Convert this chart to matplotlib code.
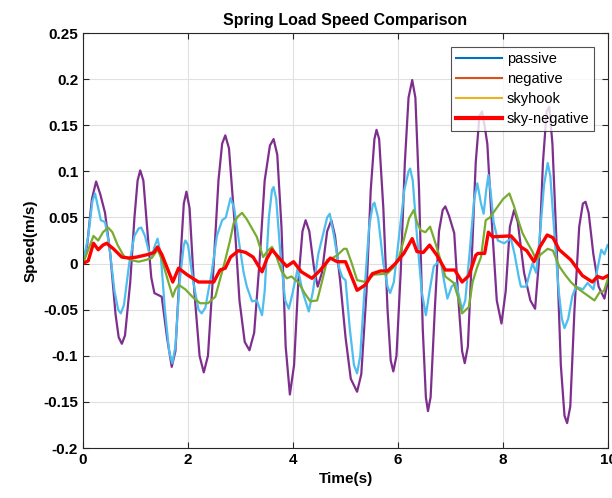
import matplotlib
matplotlib.use("Agg")
import matplotlib.pyplot as plt
from matplotlib.lines import Line2D
from matplotlib.ticker import FuncFormatter

# purple trace
purple_t = [0.00, 0.08, 0.17, 0.25, 0.33, 0.42, 0.52, 0.62, 0.68, 0.74, 0.80, 0.90, 0.98, 1.04, 1.09,
            1.15, 1.22, 1.30, 1.36, 1.50, 1.60, 1.69, 1.76, 1.84, 1.92, 1.97, 2.03, 2.12, 2.22, 2.30,
            2.38, 2.48, 2.58, 2.65, 2.71, 2.78, 2.88, 2.98, 3.08, 3.17, 3.26, 3.36, 3.46, 3.56, 3.63,
            3.70, 3.78, 3.86, 3.94, 4.02, 4.10, 4.18, 4.24, 4.31, 4.40, 4.47, 4.55, 4.65, 4.73, 4.80,
            4.90, 5.00, 5.10, 5.22, 5.30, 5.40, 5.48, 5.55, 5.59, 5.64, 5.72, 5.80, 5.86, 5.91, 5.97,
            6.05, 6.13, 6.20, 6.27, 6.33, 6.40, 6.47, 6.53, 6.57, 6.62, 6.70, 6.78, 6.85, 6.90, 6.97,
            7.07, 7.15, 7.22, 7.27, 7.33, 7.40, 7.48, 7.55, 7.60, 7.66, 7.70, 7.78, 7.88, 7.97, 8.05,
            8.13, 8.21, 8.28, 8.40, 8.52, 8.61, 8.68, 8.76, 8.83, 8.88, 8.94, 9.02, 9.10, 9.17, 9.22,
            9.28, 9.36, 9.45, 9.52, 9.57, 9.63, 9.72, 9.82, 9.93, 10.00]
purple_v = [0.000, 0.020, 0.070, 0.089, 0.075, 0.055, 0.010, -0.055, -0.080, -0.087, -0.078, -0.020, 0.050, 0.090, 0.101,
            0.090, 0.040, -0.015, -0.032, -0.036, -0.080, -0.112, -0.095, -0.010, 0.065, 0.078, 0.060, -0.030, -0.100, -0.118,
            -0.100, -0.010, 0.090, 0.130, 0.139, 0.125, 0.050, -0.040, -0.085, -0.094, -0.075, 0.000, 0.090, 0.128, 0.135,
            0.118, 0.040, -0.090, -0.142, -0.110, -0.020, 0.035, 0.047, 0.035, -0.005, -0.025, -0.010, 0.035, 0.047, 0.030,
            -0.020, -0.080, -0.125, -0.139, -0.120, -0.030, 0.080, 0.135, 0.145, 0.135, 0.060, -0.050, -0.105, -0.117, -0.100,
            -0.010, 0.110, 0.180, 0.199, 0.180, 0.080, -0.070, -0.145, -0.160, -0.145, -0.050, 0.035, 0.058, 0.062, 0.052,
            0.033, -0.040, -0.095, -0.108, -0.090, 0.000, 0.110, 0.160, 0.165, 0.145, 0.130, 0.050, -0.040, -0.065, -0.030,
            0.040, 0.058, 0.045, -0.010, -0.040, -0.049, 0.000, 0.110, 0.165, 0.170, 0.130, 0.020, -0.110, -0.165, -0.173,
            -0.155, -0.050, 0.040, 0.065, 0.067, 0.055, 0.010, -0.025, -0.038, -0.018]

# light blue trace
blue_t = [0.00, 0.10, 0.18, 0.23, 0.29, 0.34, 0.42, 0.50, 0.60, 0.67, 0.72, 0.78, 0.88, 0.98, 1.06,
          1.11, 1.18, 1.26, 1.31, 1.36, 1.42, 1.48, 1.56, 1.64, 1.70, 1.76, 1.84, 1.92, 1.95, 2.00,
          2.10, 2.20, 2.26, 2.33, 2.45, 2.55, 2.65, 2.72, 2.81, 2.88, 2.98, 3.06, 3.12, 3.22, 3.31,
          3.41, 3.46, 3.54, 3.60, 3.63, 3.68, 3.76, 3.85, 3.92, 3.98, 4.09, 4.18, 4.30, 4.38, 4.48,
          4.59, 4.65, 4.70, 4.78, 4.88, 4.94, 5.00, 5.08, 5.16, 5.22, 5.28, 5.36, 5.45, 5.52, 5.55,
          5.62, 5.72, 5.80, 5.85, 5.92, 6.02, 6.12, 6.20, 6.23, 6.28, 6.36, 6.45, 6.53, 6.60, 6.68,
          6.81, 6.88, 6.94, 7.02, 7.10, 7.16, 7.22, 7.28, 7.36, 7.45, 7.51, 7.58, 7.63, 7.68, 7.72,
          7.76, 7.82, 7.90, 8.02, 8.15, 8.22, 8.30, 8.34, 8.44, 8.50, 8.56, 8.63, 8.70, 8.78, 8.85,
          8.90, 8.98, 9.06, 9.12, 9.17, 9.24, 9.32, 9.39, 9.52, 9.61, 9.72, 9.80, 9.87, 9.93, 9.99]
blue_v = [0.000, 0.030, 0.068, 0.076, 0.060, 0.047, 0.045, 0.020, -0.030, -0.050, -0.054, -0.045, 0.000, 0.030, 0.038,
          0.039, 0.030, 0.012, 0.007, 0.018, 0.027, 0.010, -0.050, -0.095, -0.108, -0.090, -0.020, 0.020, 0.025, 0.020,
          -0.020, -0.050, -0.054, -0.048, -0.010, 0.030, 0.047, 0.050, 0.071, 0.060, 0.020, -0.010, -0.025, -0.041, -0.040,
          -0.056, -0.030, 0.050, 0.080, 0.083, 0.070, 0.010, -0.040, -0.049, -0.035, -0.005, -0.030, -0.052, -0.030, 0.010,
          0.036, 0.050, 0.054, 0.030, -0.005, -0.015, -0.018, -0.070, -0.110, -0.119, -0.100, -0.030, 0.040, 0.064, 0.066,
          0.050, 0.000, -0.025, -0.032, -0.020, 0.030, 0.080, 0.100, 0.103, 0.090, 0.030, -0.030, -0.056, -0.030, -0.003,
          0.004, -0.020, -0.038, -0.025, -0.021, -0.035, -0.050, -0.040, 0.010, 0.070, 0.087, 0.065, 0.054, 0.080, 0.096,
          0.080, 0.045, 0.025, 0.022, 0.027, 0.010, -0.015, -0.025, -0.025, -0.012, 0.000, -0.010, 0.030, 0.085, 0.109,
          0.095, 0.030, -0.030, -0.060, -0.070, -0.060, -0.035, -0.025, -0.028, -0.021, -0.028, -0.005, 0.015, 0.010, 0.020]

# green trace
green_t = [0.00, 0.10, 0.20, 0.29, 0.38, 0.48, 0.56, 0.66, 0.78, 0.90, 1.06, 1.20, 1.31, 1.42, 1.50,
           1.60, 1.71, 1.76, 1.82, 1.95, 2.10, 2.23, 2.38, 2.52, 2.62, 2.71, 2.80, 2.87, 2.95, 3.03,
           3.12, 3.24, 3.31, 3.37, 3.43, 3.52, 3.60, 3.68, 3.78, 3.88, 3.97, 4.11, 4.22, 4.33, 4.46,
           4.55, 4.65, 4.75, 4.84, 4.97, 5.02, 5.12, 5.22, 5.38, 5.54, 5.79, 5.90, 6.02, 6.12, 6.21,
           6.30, 6.36, 6.43, 6.52, 6.61, 6.68, 6.75, 6.83, 6.90, 7.06, 7.15, 7.22, 7.35, 7.42, 7.50,
           7.58, 7.67, 7.75, 7.90, 8.00, 8.12, 8.21, 8.30, 8.37, 8.47, 8.56, 8.63, 8.72, 8.85, 8.95,
           9.07, 9.18, 9.29, 9.40, 9.52, 9.62, 9.74, 9.84, 9.92, 10.00]
green_v = [0.000, 0.015, 0.030, 0.025, 0.034, 0.039, 0.034, 0.020, 0.008, 0.004, 0.002, 0.004, 0.006, 0.015, 0.005,
           -0.015, -0.036, -0.028, -0.023, -0.028, -0.037, -0.043, -0.043, -0.036, -0.015, 0.004, 0.025, 0.044, 0.051, 0.055,
           0.048, 0.036, 0.029, 0.018, 0.007, 0.014, 0.018, 0.008, -0.008, -0.016, -0.014, -0.021, -0.032, -0.041, -0.040,
           -0.020, 0.004, 0.006, 0.009, 0.016, 0.016, 0.000, -0.018, -0.020, -0.012, -0.011, -0.005, 0.007, 0.028, 0.049,
           0.058, 0.045, 0.036, 0.034, 0.040, 0.028, 0.015, 0.000, -0.014, -0.021, -0.038, -0.054, -0.047, -0.020, -0.005,
           0.007, 0.047, 0.050, 0.062, 0.070, 0.076, 0.062, 0.045, 0.033, 0.022, 0.013, 0.004, 0.010, 0.016, 0.014,
           -0.003, -0.012, -0.020, -0.026, -0.031, -0.035, -0.040, -0.031, -0.030, -0.016]

# red (sky-negative) trace
red_t = [0.00, 0.10, 0.20, 0.29, 0.38, 0.45, 0.58, 0.74, 0.88, 1.02, 1.25, 1.35, 1.42, 1.50, 1.57,
         1.71, 1.82, 1.98, 2.20, 2.49, 2.61, 2.71, 2.81, 2.96, 3.10, 3.24, 3.41, 3.50, 3.60, 3.75,
         3.88, 4.01, 4.16, 4.36, 4.52, 4.71, 4.84, 5.00, 5.10, 5.22, 5.38, 5.51, 5.67, 5.80, 5.95,
         6.11, 6.27, 6.36, 6.48, 6.60, 6.74, 6.90, 7.08, 7.22, 7.35, 7.48, 7.52, 7.65, 7.72, 7.80,
         8.15, 8.34, 8.45, 8.59, 8.70, 8.84, 8.95, 9.07, 9.29, 9.51, 9.70, 9.80, 9.90, 10.00]
red_v = [0.000, 0.003, 0.022, 0.015, 0.020, 0.022, 0.016, 0.007, 0.006, 0.007, 0.010, 0.012, 0.018, 0.010, 0.000,
         -0.020, -0.005, -0.012, -0.020, -0.020, -0.007, -0.005, 0.007, 0.014, 0.012, 0.007, -0.009, 0.005, 0.015, 0.005,
         -0.003, 0.002, -0.009, -0.016, -0.007, 0.006, 0.002, 0.002, -0.012, -0.029, -0.023, -0.011, -0.008, -0.008, 0.000,
         0.011, 0.027, 0.013, 0.012, 0.020, 0.009, -0.007, -0.007, -0.020, -0.013, 0.009, 0.011, 0.011, 0.034, 0.029,
         0.030, 0.018, 0.014, 0.002, 0.018, 0.031, 0.028, 0.015, 0.004, -0.013, -0.020, -0.014, -0.016, -0.013]

legend_labels = ["passive", "negative", "skyhook", "sky-negative"]
legend_colors = ["#0072BD", "#D95319", "#EDB120", "#FF0000"]
legend_widths = [1.5, 1.5, 1.5, 3.0]

plt.rcParams["font.family"] = ["Liberation Sans", "DejaVu Sans"]

fig = plt.figure(figsize=(6.12, 4.98), dpi=100)
ax = fig.add_axes([0.1356, 0.1004, 0.858, 0.8333])

ax.plot(purple_t, purple_v, color="#7E2F8E", lw=1.6)
ax.plot(blue_t, blue_v, color="#4DBEEE", lw=1.6)
ax.plot(green_t, green_v, color="#77AC30", lw=1.6)
ax.plot(red_t, red_v, color="#FF0000", lw=2.4)

ax.set_xlim(0, 10)
ax.set_ylim(-0.2, 0.25)
ax.set_xticks([0, 2, 4, 6, 8, 10])
ax.set_yticks([-0.2, -0.15, -0.1, -0.05, 0, 0.05, 0.1, 0.15, 0.2, 0.25])
ax.yaxis.set_major_formatter(FuncFormatter(lambda v, p: "%g" % round(v, 3)))
ax.grid(True, color="#e0e0e0", lw=0.8)
ax.set_axisbelow(True)
ax.tick_params(direction="in", top=True, right=True, length=4, width=0.8,
               labelsize=11, colors="#262626")
for lab in ax.get_xticklabels() + ax.get_yticklabels():
    lab.set_fontweight("bold")
    lab.set_color("black")
for s in ax.spines.values():
    s.set_color("#262626")
    s.set_linewidth(0.8)

ax.set_title("Spring Load Speed Comparison", fontsize=11.5, fontweight="bold", pad=6)
ax.set_xlabel("Time(s)", fontsize=11, fontweight="bold", labelpad=4)
ax.set_ylabel("Speed(m/s)", fontsize=11, fontweight="bold", labelpad=4)

handles = [Line2D([0], [0], color=c, lw=w) for c, w in zip(legend_colors, legend_widths)]
leg = ax.legend(handles, legend_labels, loc="upper right", bbox_to_anchor=(0.974, 0.966),
                fontsize=10.5, frameon=True, fancybox=False, borderpad=0.35,
                labelspacing=0.4, handlelength=3.1, handletextpad=0.35, borderaxespad=0)
leg.get_frame().set_edgecolor("#262626")
leg.get_frame().set_linewidth(0.8)

fig.savefig("out.png", dpi=100)
plt.close(fig)
